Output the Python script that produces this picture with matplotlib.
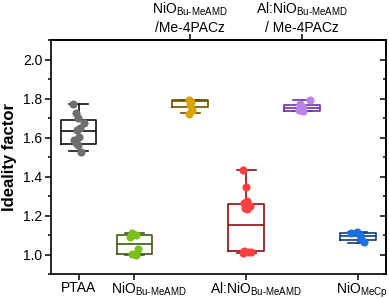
import numpy as np
import matplotlib.pyplot as plt
import matplotlib.transforms as mtransforms

plt.rcParams['font.family'] = 'Liberation Sans'
plt.rcParams['mathtext.fontset'] = 'custom'
plt.rcParams['mathtext.rm'] = 'Liberation Sans'
plt.rcParams['mathtext.default'] = 'regular'

# box statistics
pos = [1, 2, 3, 4, 5, 6]
q1 = [1.568, 1.002, 1.755, 1.018, 1.738, 1.074]
med = [1.633, 1.056, 1.785, 1.153, 1.753, 1.093]
q3 = [1.689, 1.098, 1.794, 1.260, 1.768, 1.112]
wlo = [1.529, 1.000, 1.728, 1.008, 1.738, 1.061]
whi = [1.774, 1.112, 1.794, 1.434, 1.792, 1.116]

# individual devices
pts = [
    [1.774, 1.728, 1.702, 1.677, 1.650, 1.640, 1.604, 1.587, 1.570, 1.560, 1.527],
    [1.110, 1.100, 1.092, 1.030, 1.005, 1.000],
    [1.790, 1.780, 1.768, 1.739, 1.723],
    [1.434, 1.346, 1.276, 1.262, 1.250, 1.240, 1.232, 1.020, 1.015, 1.012, 1.010],
    [1.792, 1.770, 1.755, 1.742, 1.735],
    [1.112, 1.115, 1.102, 1.080, 1.066],
]
jit = [
    [-0.10, -0.05, -0.01, 0.10, 0.02, -0.02, 0.01, -0.08, -0.05, -0.01, 0.05],
    [-0.05, 0.03, -0.07, 0.06, -0.04, 0.02],
    [-0.03, 0.02, -0.01, 0.03, -0.02],
    [-0.05, 0.00, 0.02, -0.04, 0.06, -0.02, 0.01, -0.03, 0.04, 0.08, -0.06],
    [0.15, -0.03, 0.02, -0.06, 0.01],
    [-0.12, -0.02, 0.03, 0.06, 0.10],
]

edge = ['#111111', '#3d5a10', '#6b5000', '#8b1010', '#7030a0', '#123c78']
dot = ['#6e6e6e', '#7bbf1a', '#d9a400', '#ff4040', '#b884e6', '#1f6fe0']

bottom_labels = ['PTAA', 'NiO$_{Bu\u2010MeAMD}$', 'Al:NiO$_{Bu\u2010MeAMD}$', 'NiO$_{MeCp}$']
top_labels = ['NiO$_{Bu\u2010MeAMD}$\n/Me-4PACz', 'Al:NiO$_{Bu\u2010MeAMD}$\n/ Me-4PACz']

fig = plt.figure(figsize=(3.89, 2.99), dpi=100)
ax = fig.add_axes([0.13, 0.0836, 0.862, 0.7824])

for i in range(len(pos)):
    st = [dict(med=med[i], q1=q1[i], q3=q3[i], whislo=wlo[i], whishi=whi[i], fliers=[])]
    c = edge[i]
    ax.bxp(st, positions=[pos[i]], widths=0.64, capwidths=0.34,
           boxprops=dict(color=c, lw=1.2), medianprops=dict(color=c, lw=1.2),
           whiskerprops=dict(color=c, lw=1.2), capprops=dict(color=c, lw=1.2),
           zorder=2)
    ax.scatter(np.array(jit[i]) + pos[i], pts[i], s=34, color=dot[i], zorder=3, lw=0)

ax.set_xlim(0.5, 6.5)
ax.set_ylim(0.9, 2.1)
ax.set_yticks([1.0, 1.2, 1.4, 1.6, 1.8, 2.0])
ax.set_yticks(np.arange(0.9, 2.11, 0.1), minor=True)
ax.set_xticks([1, 2, 4, 6])
ax.set_xticklabels(bottom_labels)
ax.tick_params(axis='both', direction='out', labelsize=10, width=1.1, length=4, pad=2)
ax.tick_params(axis='x', pad=1)
ax.tick_params(axis='y', which='minor', direction='out', width=1.1, length=2)
ax.set_ylabel('Ideality factor', fontsize=12, fontweight='bold', labelpad=4)

# Origin centres the label on the main text, nudge subscripted ones right
shifts = [0, 14, 10, 4]
for lab, dx in zip(ax.get_xticklabels(), shifts):
    lab.set_transform(lab.get_transform() + mtransforms.ScaledTranslation(dx / 100, 0, fig.dpi_scale_trans))

top = ax.secondary_xaxis('top')
top.set_xticks([3, 5])
top.set_xticklabels(top_labels, linespacing=1.25)
top.tick_params(direction='out', labelsize=10, width=1.1, length=4, pad=-0.5)

right = ax.secondary_yaxis('right')
right.set_yticks([1.0, 1.2, 1.4, 1.6, 1.8, 2.0])
right.set_yticks(np.arange(0.9, 2.11, 0.1), minor=True)
right.tick_params(direction='in', labelright=False, width=1.1, length=4)
right.tick_params(which='minor', direction='in', width=1.1, length=2)

for sp in ax.spines.values():
    sp.set_linewidth(1.2)
top.spines['top'].set_linewidth(1.2)
right.spines['right'].set_linewidth(1.2)

fig.savefig('out.png', dpi=100)
